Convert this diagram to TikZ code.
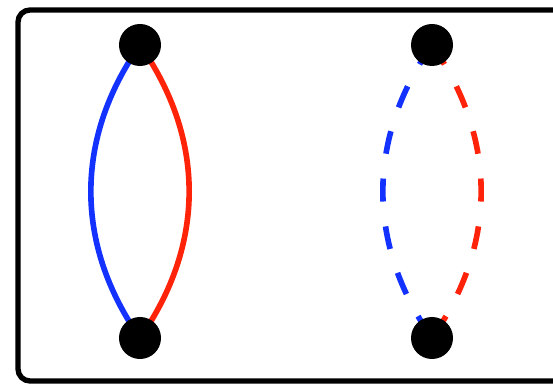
\documentclass[tikz,border=0pt]{standalone}
\usepackage{tikz}
\usetikzlibrary{positioning,backgrounds}

\definecolor{arcblue}{RGB}{20,50,255}
\definecolor{arcred}{RGB}{255,35,10}

\tikzset{
  dot/.style={circle,fill=black,inner sep=0pt,minimum size=1.05cm},
  arcline/.style={line width=4pt},
  dashline/.style={arcline,dash pattern=on 0.575cm off 0.625cm}
}

\begin{document}
\begin{tikzpicture}[x=0.025cm,y=-0.025cm]
        \useasboundingbox (0,0) rectangle (553,385);
        % frame
        \draw[line width=3.8pt,rounded corners=0.3cm] (18,10) rectangle (620,381);
        % left pair
        \node[dot] (ltop) at (140,45) {};
        \node[dot] (lbot) at (140,338) {};
        % right pair
        \node[dot] (rtop) at (432,45) {};
        \node[dot] (rbot) at (432,338) {};
        \begin{scope}[on background layer]
          \draw[arcline,arcblue] (ltop.center) to[bend right=35] (lbot.center);
          \draw[arcline,arcred] (ltop.center) to[bend left=35] (lbot.center);
          \draw[dashline,arcblue] (rtop.center) to[bend right=35] (rbot.center);
          \draw[dashline,arcred] (rtop.center) to[bend left=35] (rbot.center);
        \end{scope}
    \end{tikzpicture}
\end{document}
